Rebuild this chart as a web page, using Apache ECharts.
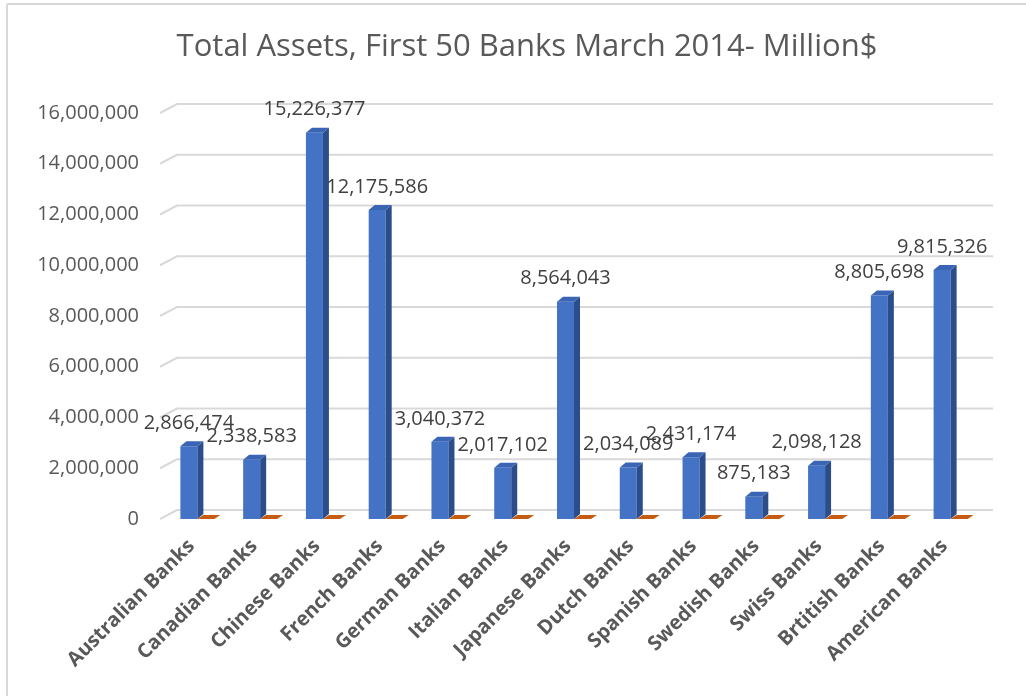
<!DOCTYPE html>
<html>
<head>
<meta charset="utf-8">
<script src="https://cdn.jsdelivr.net/npm/echarts@6/dist/echarts.min.js"></script>
<style>
  html, body { margin: 0; padding: 0; background: #ffffff; }
  #chart { width: 1026px; height: 696px; }
</style>
</head>
<body>
<div id="chart"></div>
<script>
// Total assets of the first 50 banks, grouped by country (million $)
const categories = [
  'Australian Banks', 'Canadian Banks', 'Chinese Banks', 'French Banks',
  'German Banks', 'Italian Banks', 'Japanese Banks', 'Dutch Banks',
  'Spanish Banks', 'Swedish Banks', 'Swiss Banks', 'Brtitish Banks',
  'American Banks'
];
const totalAssets = [
  2866474, 2338583, 15226377, 12175586, 3040372, 2017102, 8564043,
  2034089, 2431174, 875183, 2098128, 8805698, 9815326
];
// second series of the workbook, empty for every group
const secondSeries = [0, 0, 0, 0, 0, 0, 0, 0, 0, 0, 0, 0, 0];
const yTicks = [0, 2000000, 4000000, 6000000, 8000000, 10000000, 12000000, 14000000, 16000000];

const fmt = v => v.toLocaleString('en-US');
const FONT = '"Open Sans", "Noto Sans", sans-serif';

// depth of the pseudo-3D back wall and bars
const WALL_DX = 17, WALL_DY = -9;
const BAR_DX = 6, BAR_DY = -5;

function renderGridLine(params, api) {
  const p = api.coord([0, api.value(1)]);
  const cs = params.coordSys;
  const y = p[1];
  return {
    type: 'polyline',
    shape: { points: [[cs.x, y], [cs.x + WALL_DX, y + WALL_DY], [cs.x + cs.width + WALL_DX, y + WALL_DY]] },
    style: { stroke: '#d9d9d9', lineWidth: 2, fill: null }
  };
}

function renderBlueBar(params, api) {
  const idx = api.value(0), v = api.value(1);
  const base = api.coord([idx, 0]);
  const top = api.coord([idx, v]);
  const c = base[0];
  const x0 = c - 11, x1 = c + 6;
  const yt = top[1], yb = base[1];
  return {
    type: 'group',
    children: [
      { type: 'rect', shape: { x: x0, y: yt, width: x1 - x0, height: yb - yt }, style: { fill: '#4472c4' } },
      { type: 'polygon', shape: { points: [[x1, yt], [x1 + BAR_DX, yt + BAR_DY], [x1 + BAR_DX, yb + BAR_DY], [x1, yb]] }, style: { fill: '#2c4d8c' } },
      { type: 'polygon', shape: { points: [[x0, yt], [x0 + BAR_DX, yt + BAR_DY], [x1 + BAR_DX, yt + BAR_DY], [x1, yt]] }, style: { fill: '#3a64b4' } },
      { type: 'text', x: (x0 + x1) / 2, y: yt - 23,
        style: { text: fmt(v), fill: '#404040', font: '20px ' + FONT, align: 'center', verticalAlign: 'middle' } }
    ]
  };
}

function renderOrangeBar(params, api) {
  const idx = api.value(0), v = api.value(1);
  const base = api.coord([idx, 0]);
  const top = api.coord([idx, v]);
  const c = base[0];
  const x0 = c + 6, x1 = c + 23;
  const yt = top[1], yb = base[1];
  return {
    type: 'group',
    children: [
      { type: 'rect', shape: { x: x0, y: yt, width: x1 - x0, height: Math.max(0, yb - yt) }, style: { fill: '#c55a11' } },
      { type: 'polygon', shape: { points: [[x0, yt], [x0 + BAR_DX, yt - 4], [x1 + BAR_DX, yt - 4], [x1, yt]] }, style: { fill: '#c65b12' } }
    ]
  };
}

const chart = echarts.init(document.getElementById('chart'), null, { renderer: 'canvas' });
chart.setOption({
  animation: false,
  backgroundColor: '#ffffff',
  title: {
    text: 'Total Assets, First 50 Banks March 2014- Million$',
    left: 522, top: 27, textAlign: 'center',
    textStyle: { fontFamily: FONT, fontSize: 31, fontWeight: 'normal', color: '#595959' }
  },
  graphic: [
    { type: 'line', shape: { x1: 7, y1: 4, x2: 1026, y2: 4 }, style: { stroke: '#d9d9d9', lineWidth: 2 } },
    { type: 'line', shape: { x1: 7, y1: 4, x2: 7, y2: 696 }, style: { stroke: '#d9d9d9', lineWidth: 2 } }
  ],
  grid: { left: 160, right: 50, top: 113, bottom: 177 },
  xAxis: {
    type: 'category',
    data: categories,
    axisLine: { show: false },
    axisTick: { show: false },
    axisLabel: {
      interval: 0, rotate: 45, margin: 24,
      fontFamily: FONT, fontSize: 20, fontWeight: 'bold', color: '#595959'
    }
  },
  yAxis: {
    type: 'value', min: 0, max: 16000000, interval: 2000000,
    axisLine: { show: false }, axisTick: { show: false },
    splitLine: { show: false },
    axisLabel: { margin: 21, fontFamily: FONT, fontSize: 20, color: '#595959', formatter: v => fmt(v) }
  },
  series: [
    { type: 'custom', name: 'grid', renderItem: renderGridLine, data: yTicks.map(t => [0, t]), z: 1, silent: true },
    { type: 'custom', name: 'Total Assets', renderItem: renderBlueBar, data: totalAssets.map((v, i) => [i, v]), z: 3 },
    { type: 'custom', name: 'Series 2', renderItem: renderOrangeBar, data: secondSeries.map((v, i) => [i, v]), z: 2 }
  ]
});
</script>
</body>
</html>
